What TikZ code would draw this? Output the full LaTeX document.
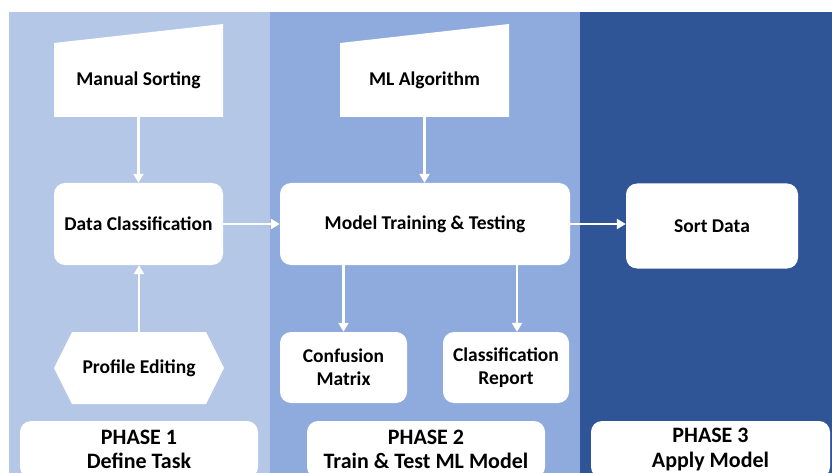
\documentclass[tikz,border=0pt]{standalone}
\usepackage{fontspec}
\setmainfont{Carlito}
\usetikzlibrary{arrows.meta}

\definecolor{phaseone}{HTML}{B4C7E7}
\definecolor{phasetwo}{HTML}{8FAADC}
\definecolor{phasethree}{HTML}{2F5597}

\begin{document}
\begin{tikzpicture}[x=1pt, y=-1pt,
  box/.style={fill=white, rounded corners=11pt, inner sep=0pt, align=center,
              font=\fontsize{19.5}{23}\selectfont\bfseries},
  label/.style={inner sep=0pt, align=center, font=\fontsize{19.5}{23}\selectfont\bfseries},
  phasebox/.style={box, minimum width=238pt, minimum height=57pt,
              font=\fontsize{22}{24.5}\selectfont\bfseries},
  flow/.style={draw=white, line width=2.6pt, -{Triangle[width=10pt,length=9pt]}}]
  \useasboundingbox (0,0) rectangle (832,473);

  % phase bands
  \fill[phaseone] (9,12) rectangle (270,473);
  \fill[phasetwo] (270,12) rectangle (580,473);
  \fill[phasethree] (580,12) rectangle (832,473);

  % manual input shapes and the preparation hexagon
  \fill[white] (54,117) -- (54,43) -- (223,24) -- (223,117) -- cycle;
  \fill[white] (340,117) -- (340,43) -- (509,24) -- (509,117) -- cycle;
  \fill[white] (54,368) -- (72,332) -- (206,332) -- (224,368) -- (206,404) -- (72,404) -- cycle;

  \node[label, minimum width=169pt, minimum height=74pt] (manual) at (138.5,80) {Manual Sorting};
  \node[label, minimum width=169pt, minimum height=74pt] (algo) at (424.5,80) {ML Algorithm};
  \node[label, minimum width=170pt, minimum height=72pt] (profile) at (139,368) {Profile Editing};

  % process boxes
  \node[box, minimum width=169pt, minimum height=82pt] (dataclass) at (138.5,224) {Data Classification};
  \node[box, minimum width=290pt, minimum height=82pt] (model) at (425,224) {Model Training \& Testing};
  \node[box, minimum width=172pt, minimum height=85pt] (sort) at (712,226) {Sort Data};
  \node[box, minimum width=127pt, minimum height=71pt] (conf) at (343.5,367.5) {Confusion\\Matrix};
  \node[box, minimum width=126pt, minimum height=71pt] (report) at (506,367.5) {Classification\\Report};

  % phase titles
  \node[phasebox] (phaseA) at (139,449.5) {PHASE 1\\Define Task};
  \node[phasebox] (phaseB) at (426,449.5) {PHASE 2\\Train \& Test ML Model};
  \node[phasebox, minimum width=239pt] (phaseC) at (710.5,449.5) {PHASE 3\\Apply Model};

  % connectors
  \draw[flow] (manual.south) -- (dataclass.north);
  \draw[flow] (profile.north) -- (profile.north |- dataclass.south);
  \draw[flow] (algo.south) -- (algo.south |- model.north);
  \draw[flow] (dataclass.east) -- (model.west);
  \draw[flow] (model.east) -- (model.east -| sort.west);
  \draw[flow] (model.south -| conf.north) -- (conf.north);
  \draw[flow] ([xshift=11pt]report.north |- model.south) -- ([xshift=11pt]report.north);
\end{tikzpicture}
\end{document}
